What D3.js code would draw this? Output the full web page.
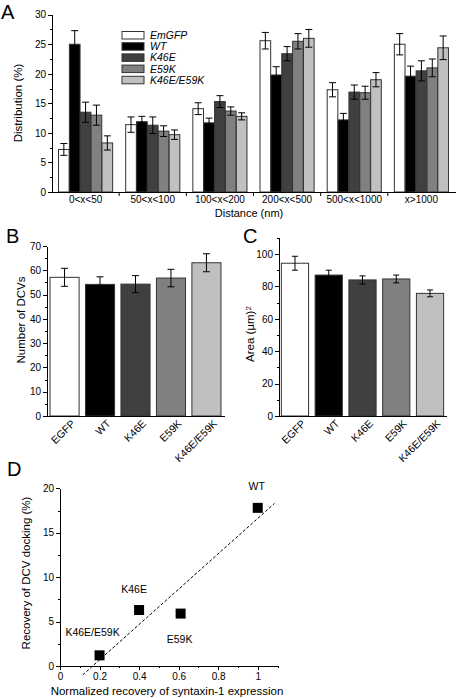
<!DOCTYPE html>
<html><head><meta charset="utf-8">
<script src="https://cdn.jsdelivr.net/npm/d3@7"></script>
<style>
body{margin:0;background:#fff}
text{font-family:"Liberation Sans",Arial,Helvetica,sans-serif;fill:#000}
.axis path,.axis line{stroke:#000;stroke-width:1;shape-rendering:crispEdges}
</style>
</head><body><svg id="c" width="456" height="698"></svg>
<script>
// ---------- DATA ----------
const distCategories = ["0<x<50","50<x<100","100<x<200","200<x<500","500<x<1000","x>1000"];
const seriesNames = ["EmGFP","WT","K46E","E59K","K46E/E59K"];
const emgfpDist = [7.2, 11.4, 14.1, 25.6, 17.3, 25.0];
const emgfpErr  = [1.0, 1.3, 1.0, 1.4, 1.2, 1.8];
const wtDist    = [25.0, 11.9, 11.7, 19.8, 12.2, 19.6];
const wtErr     = [2.3, 0.9, 0.8, 1.4, 1.1, 1.7];
const k46eDist  = [13.5, 11.3, 15.3, 23.4, 16.9, 20.5];
const k46eErr   = [1.7, 1.4, 1.0, 1.2, 1.2, 1.7];
const e59kDist  = [13.0, 10.3, 13.7, 25.5, 16.8, 21.0];
const e59kErr   = [1.7, 0.9, 0.7, 1.3, 1.1, 1.5];
const dblDist   = [8.3, 9.7, 12.8, 26.0, 19.0, 24.4];
const dblErr    = [1.2, 0.8, 0.6, 1.5, 1.2, 2.0];
const distTicks = [0,5,10,15,20,25,30];

const conditions = ["EGFP","WT","K46E","E59K","K46E/E59K"];
const dcvCount    = [57.1, 54.2, 54.3, 56.8, 63.1];
const dcvCountErr = [3.7, 3.1, 3.5, 3.6, 3.7];
const dcvTicks = [0,10,20,30,40,50,60,70];
const cellArea    = [94.3, 87.0, 84.0, 84.6, 75.7];
const cellAreaErr = [4.3, 3.0, 2.5, 2.4, 2.1];
const areaTicks = [0,20,40,60,80,100];

const corrLabels = ["K46E/E59K","K46E","E59K","WT"];
const syntaxinRecovery = [0.2, 0.4, 0.61, 1.0];
const dockingRecovery  = [1.2, 6.3, 5.9, 17.8];
const fitLineX = [0.115, 1.085];
const fitLineY = [-1.0, 18.3];
const corrXTicks = [0,0.2,0.4,0.6,0.8,1];
const corrYTicks = [0,5,10,15,20];

const barFills = ["#ffffff","#000000","#404040","#808080","#c0c0c0"];
const barStroke = "#333";

const svg = d3.select("#c");

function panelLetter(t,x,y){
  svg.append("text").attr("x",x).attr("y",y).attr("font-size",20).text(t);
}
function yAxis(g, scale, major, minor, size){
  g.attr("class","axis").call(d3.axisLeft(scale).tickValues(major).tickSize(4).tickSizeOuter(0).tickPadding(2))
   .call(s=>s.selectAll("text").attr("font-size",size).attr("font-family",null));
  g.append("g").attr("class","axis").call(d3.axisLeft(scale).tickValues(minor).tickSize(2).tickFormat(""))
   .call(s=>s.select(".domain").remove());
}
function errBars(g, xs, ys, es, scaleY, cap){
  xs.forEach((x,i)=>{
    const y1 = scaleY(ys[i]+es[i]), y0 = scaleY(ys[i]-es[i]);
    g.append("line").attr("x1",x).attr("x2",x).attr("y1",y1).attr("y2",y0).attr("stroke","#000").attr("stroke-width",1);
    [y1,y0].forEach(yy=>g.append("line").attr("x1",x-cap).attr("x2",x+cap).attr("y1",yy).attr("y2",yy).attr("stroke","#000").attr("stroke-width",1));
  });
}

// ---------- PANEL A ----------
panelLetter("A",1,19);
const xA = d3.scaleBand().domain(distCategories).range([52,455]).paddingInner(0).paddingOuter(0);
const xInner = d3.scaleBand().domain(seriesNames).range([0,xA.bandwidth()]).paddingInner(0.02).paddingOuter(0.6);
const yA = d3.scaleLinear().domain([0,30]).range([192,14.7]);
const seriesVals = [emgfpDist,wtDist,k46eDist,e59kDist,dblDist];
const seriesErrs = [emgfpErr,wtErr,k46eErr,e59kErr,dblErr];
const gA = svg.append("g");
seriesNames.forEach((s,si)=>{
  distCategories.forEach((c,ci)=>{
    const x = xA(c)+xInner(s);
    gA.append("rect").attr("x",x).attr("width",xInner.bandwidth())
      .attr("y",yA(seriesVals[si][ci])).attr("height",yA(0)-yA(seriesVals[si][ci]))
      .attr("fill",barFills[si]).attr("stroke",barStroke).attr("stroke-width",1);
  });
});
seriesNames.forEach((s,si)=>{
  errBars(gA, distCategories.map(c=>xA(c)+xInner(s)+xInner.bandwidth()/2), seriesVals[si], seriesErrs[si], yA, 3.5);
});
yAxis(svg.append("g").attr("transform","translate(52,0)"), yA, distTicks, d3.range(2.5,30,5), 10);
const axA = svg.append("g").attr("transform","translate(0,192)").attr("class","axis")
  .call(d3.axisBottom(xA).tickSize(0).tickPadding(4).tickSizeOuter(0));
axA.selectAll("text").attr("font-size",10).attr("font-family",null);
distCategories.slice(1).forEach(c=>{
  svg.append("line").attr("x1",xA(c)).attr("x2",xA(c)).attr("y1",192).attr("y2",196).attr("stroke","#000");
});
svg.append("text").attr("x",249).attr("y",217).attr("text-anchor","middle").attr("font-size",11).text("Distance (nm)");
svg.append("text").attr("transform","translate(22,103) rotate(-90)").attr("text-anchor","middle").attr("font-size",11.5).text("Distribution (%)");
// legend
const leg = svg.append("g");
seriesNames.forEach((s,i)=>{
  const y = 31.5 + i*11.2;
  leg.append("rect").attr("x",122).attr("y",y).attr("width",22).attr("height",7.5)
    .attr("fill",barFills[i]).attr("stroke",barStroke).attr("stroke-width",1);
  leg.append("text").attr("x",150).attr("y",y+7.5).attr("font-size",10.5).attr("font-style","italic").text(s);
});

// ---------- PANEL B ----------
panelLetter("B",6,243);
const xB = d3.scaleBand().domain(conditions).range([47,224]).paddingInner(0.18).paddingOuter(0.085);
const yB = d3.scaleLinear().domain([0,70]).range([416,246]);
const gB = svg.append("g");
conditions.forEach((c,i)=>{
  gB.append("rect").attr("x",xB(c)).attr("width",xB.bandwidth()).attr("y",yB(dcvCount[i])).attr("height",yB(0)-yB(dcvCount[i]))
    .attr("fill",barFills[i]).attr("stroke",barStroke).attr("stroke-width",1);
});
errBars(gB, conditions.map(c=>xB(c)+xB.bandwidth()/2), dcvCount, dcvCountErr, yB, 3.5);
yAxis(svg.append("g").attr("transform","translate(47,0)"), yB, dcvTicks, d3.range(5,70,10), 10);
svg.append("g").attr("class","axis").attr("transform","translate(0,416)")
  .call(d3.axisBottom(xB).tickSize(0).tickSizeOuter(0).tickFormat(""));
conditions.forEach(c=>{
  svg.append("text").attr("transform",`translate(${xB(c)+xB.bandwidth()/2+6},419) rotate(-45)`)
    .attr("text-anchor","end").attr("dy","0.71em").attr("font-size",10.5).text(c);
});
svg.append("text").attr("transform","translate(25,320) rotate(-90)").attr("text-anchor","middle").attr("font-size",11.5).text("Number of DCVs");

// ---------- PANEL C ----------
panelLetter("C",243,243);
const xC = d3.scaleBand().domain(conditions).range([279,446]).paddingInner(0.194).paddingOuter(0.07);
const yC = d3.scaleLinear().domain([0,110]).range([416,237.8]);
const gC = svg.append("g");
conditions.forEach((c,i)=>{
  gC.append("rect").attr("x",xC(c)).attr("width",xC.bandwidth()).attr("y",yC(cellArea[i])).attr("height",yC(0)-yC(cellArea[i]))
    .attr("fill",barFills[i]).attr("stroke",barStroke).attr("stroke-width",1);
});
errBars(gC, conditions.map(c=>xC(c)+xC.bandwidth()/2), cellArea, cellAreaErr, yC, 3);
yAxis(svg.append("g").attr("transform","translate(279,0)"), yC, areaTicks, d3.range(10,111,20), 10);
svg.append("g").attr("class","axis").attr("transform","translate(0,416)")
  .call(d3.axisBottom(xC).tickSize(0).tickSizeOuter(0).tickFormat(""));
conditions.forEach(c=>{
  svg.append("text").attr("transform",`translate(${xC(c)+xC.bandwidth()/2+6},419) rotate(-45)`)
    .attr("text-anchor","end").attr("dy","0.71em").attr("font-size",10.5).text(c);
});
const cl = svg.append("text").attr("transform","translate(254,334) rotate(-90)").attr("text-anchor","middle").attr("font-size",11.5);
cl.append("tspan").text("Area (\u00b5m)");
cl.append("tspan").attr("dy","-0.4em").attr("font-size",8).text("2");

// ---------- PANEL D ----------
panelLetter("D",7,476);
const xD = d3.scaleLinear().domain([0,1.1]).range([60,277.5]);
const yD = d3.scaleLinear().domain([0,20]).range([666,488.3]);
const axDx = svg.append("g").attr("class","axis").attr("transform","translate(0,666)")
  .call(d3.axisBottom(xD).tickValues(corrXTicks).tickSize(4).tickSizeOuter(0).tickPadding(3).tickFormat(d=>d===0?"0":(d===1?"1":d3.format(".1f")(d))));
axDx.selectAll("text").attr("font-size",10).attr("font-family",null);
svg.append("g").attr("class","axis").attr("transform","translate(0,666)")
  .call(d3.axisBottom(xD).tickValues(d3.range(0.1,1.11,0.2)).tickSize(2).tickFormat(""))
  .call(s=>s.select(".domain").remove());
yAxis(svg.append("g").attr("transform","translate(60,0)"), yD, corrYTicks, d3.range(2.5,20,5), 10);
svg.append("line").attr("x1",xD(fitLineX[0])).attr("y1",yD(fitLineY[0])).attr("x2",xD(fitLineX[1])).attr("y2",yD(fitLineY[1]))
  .attr("stroke","#000").attr("stroke-width",1).attr("stroke-dasharray","3,2");
const sq = 10;
syntaxinRecovery.forEach((v,i)=>{
  svg.append("rect").attr("x",xD(v)-sq/2).attr("y",yD(dockingRecovery[i])-sq/2).attr("width",sq).attr("height",sq).attr("fill","#000");
});
const labelOffsets = [[-7,-19],[-5,-17],[-1,29],[-1,-18]];
corrLabels.forEach((t,i)=>{
  svg.append("text").attr("x",xD(syntaxinRecovery[i])+labelOffsets[i][0]).attr("y",yD(dockingRecovery[i])+labelOffsets[i][1])
    .attr("text-anchor","middle").attr("font-size",10.5).text(t);
});
svg.append("text").attr("transform","translate(30,573) rotate(-90)").attr("text-anchor","middle").attr("font-size",11.5).text("Recovery of DCV docking (%)");
svg.append("text").attr("x",167).attr("y",695).attr("text-anchor","middle").attr("font-size",11.5).text("Normalized recovery of syntaxin-1 expression");
</script>
</body></html>
